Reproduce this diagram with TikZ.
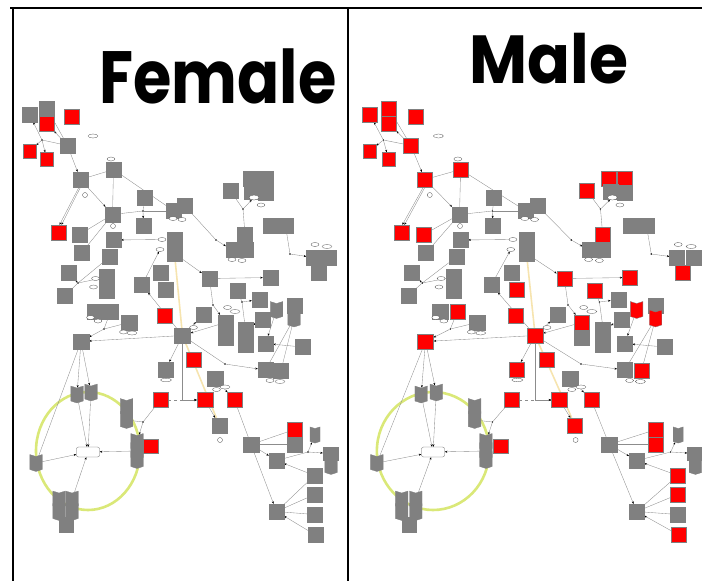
\documentclass[tikz,border=0pt]{standalone}
\usepackage{fontspec}
\newfontfamily\titlefont{Poppins}
\usetikzlibrary{shapes.symbols,shapes.geometric,arrows.meta,backgrounds}
\definecolor{boxgray}{RGB}{128,128,128}
\definecolor{boxred}{RGB}{255,0,0}
\definecolor{ringyellow}{RGB}{218,232,120}
\definecolor{hiyellow}{RGB}{246,228,175}
\tikzset{
 bx/.style={rectangle, draw=black!50, line width=0.3pt, minimum width=15pt, minimum height=15pt, inner sep=0pt},
 sh/.style={signal, signal to=south, signal from=north, signal pointer angle=145, draw=black!50, line width=0.3pt, minimum width=12.5pt, minimum height=13pt, inner sep=0pt},
 dt/.style={circle, fill=black, inner sep=0pt, minimum size=1.6pt},
 ov/.style={ellipse, draw=black!70, fill=white, line width=0.3pt, minimum width=8pt, minimum height=4pt, inner sep=0pt},
 cc/.style={circle, draw=black!70, fill=white, line width=0.3pt, minimum size=5pt, inner sep=0pt},
 cn/.style={draw=black!45, line width=0.35pt},
 ar/.style={cn, -{Stealth[length=2.6pt,width=2pt,color=black]}},
 hl/.style={draw=hiyellow, line width=1.6pt},
 cR/.style={fill=boxred},
 cG/.style={fill=boxgray},
 ttl/.style={anchor=base, inner sep=0pt, transform shape},
}
\newcommand{\graphbody}{%
% ---- top left cluster
\node[bx,cX] (n1) at (29.5,114.5) {};
\node[bx,cX] (n2) at (47,108.5) {};
\node[bx,cR] (n3) at (47,123.5) {};
\node[bx,cR] (n4) at (71.5,116.5) {};
\node[bx,cR,minimum width=13pt,minimum height=14pt] (n5) at (29.5,151) {};
\node[bx,cR,minimum width=13pt,minimum height=14pt] (n6) at (47,159.5) {};
\node[bx,cX] (ub) at (67.5,145.5) {};
\node[ov,minimum width=10pt] (lb) at (93,136) {};
\node[dt] (d1) at (42,140) {};
% ---- upper middle
\node[ov] (o1) at (111,159) {};
\node[bx,cX] (n7) at (113.5,169.5) {};
\node[bx,cX] (n8) at (80.5,179.5) {};
\node[cc] (c1) at (85,195) {};
\node[bx,cG] (n9) at (144.5,197.5) {};
\node[bx,cG] (n10) at (112.5,214.5) {};
\node[cc] (c2) at (113,226) {};
\node[dt] (d8) at (143,211) {};
\node[bx,cG] (n11) at (143.5,226) {};
\node[bx,cR] (n12) at (58.5,232.5) {};
\node[bx,cX] (n13) at (79.5,234.5) {};
\node[bx,cG] (n14) at (113.5,240) {};
\node[bx,cG] (n15) at (81.5,253) {};
\node[bx,cG] (n16) at (109.5,257) {};
\node[bx,cG] (pA) at (174,211) {};
\node[bx,cG] (pB) at (185,206) {};
\node[ov] (oa) at (173,218.5) {};
\node[ov] (ob) at (182,219.5) {};
\node[bx,cG] (t1) at (174.5,239.5) {};
\node[bx,cG] (t2) at (174.5,253.5) {};
\node[ov] (oc) at (162,239.5) {};
\node[ov] (od) at (160,249.5) {};
\node[bx,cX] (n17) at (230.5,191) {};
\node[bx,cX] (k1) at (251,178.5) {};
\node[bx,cX] (k2) at (265.5,178.5) {};
\node[bx,cG] (k3) at (252,192) {};
\node[bx,cG] (k4) at (265.5,193) {};
\node[ov,minimum width=10pt,minimum height=5pt] (o2) at (254,197.5) {};
\node[ov] (o3) at (261,205) {};
\node[dt] (d2) at (243,209) {};
\node[bx,cX] (s1) at (245,234.5) {};
\node[bx,cG] (s2) at (245.5,249.5) {};
\node[bx,cG,minimum width=12pt] (s3) at (232,250) {};
\node[ov] (oe) at (232,259.5) {};
\node[ov] (of) at (242,260.5) {};
\node[dt] (d4) at (216,240) {};
\node[bx,cG] (q1) at (271,225.5) {};
\node[bx,cG] (q2) at (285.5,225.5) {};
\node[dt] (d3) at (290,254) {};
\node[bx,cG] (r1) at (314,257.5) {};
\node[bx,cG] (r2) at (329,257.5) {};
\node[bx,cX] (r3) at (319,272.5) {};
\node[ov] (og) at (315,244.5) {};
\node[ov,minimum width=10pt] (oh) at (327,246.5) {};
% ---- middle
\node[bx,cG] (n18) at (68.5,272.5) {};
\node[bx,cG] (n19) at (65,295.5) {};
\node[bx,cG] (n20) at (107,277) {};
\node[bx,cG] (n21) at (107,291) {};
\node[ov] (oi) at (95.5,278.5) {};
\node[ov] (oj) at (93.5,287) {};
\node[dt] (d5) at (78,283) {};
\node[bx,cG] (n22) at (142,285) {};
\node[bx,cG] (n23) at (161,272.5) {};
\node[bx,cX] (n24) at (165.5,290) {};
\node[bx,cG,minimum width=16pt] (n25) at (95,311.5) {};
\node[bx,cX] (n26) at (110.5,311.5) {};
\node[ov] (ok) at (90.5,317.5) {};
\node[ov] (ol) at (98,321) {};
\node[bx,cG,minimum width=16pt] (n27) at (129,322.5) {};
\node[ov] (om) at (123.5,332) {};
\node[ov,minimum width=10pt] (on) at (132,333) {};
\node[dt] (d6) at (104,329) {};
\node[bx,cX,minimum width=16pt] (stress) at (81,341.5) {};
\node[bx,cR] (n28) at (164.5,315.5) {};
\node[bx,cX,minimum width=16pt] (hub) at (182.5,335.5) {};
\node[ov] (oo) at (193.5,327.5) {};
\node[bx,cX] (n29) at (209.5,278.5) {};
\node[bx,cX] (n30) at (270.5,277.5) {};
\node[bx,cX] (n31) at (237.5,291) {};
\node[bx,cG] (n32) at (259.5,299.5) {};
\node[bx,cG] (n33) at (203.5,314.5) {};
\node[ov] (op) at (227.5,307.5) {};
\node[ov,minimum width=10pt] (oq) at (235,311.5) {};
\node[dt] (d9) at (213,305) {};
\node[dt] (d10) at (242,302) {};
\node[bx,cX] (n34) at (225.5,322.5) {};
\node[bx,cG] (n35) at (225.5,337.5) {};
\node[bx,cG] (n36) at (245.5,329.5) {};
\node[bx,cG] (n37) at (245.5,344.5) {};
\node[bx,cG] (n38) at (262.5,319.5) {};
\node[sh,cX] (sh1) at (276.5,310) {};
\node[bx,cG] (n39) at (294.5,305.5) {};
\node[sh,cX] (sh2) at (294,318.5) {};
\node[bx,cG] (n40) at (265.5,343.5) {};
\node[bx,cG] (n41) at (302.5,347) {};
\node[bx,cR] (n42) at (193.5,360) {};
\node[dt] (d11) at (225,364) {};
\node[bx,cG] (p1) at (265.5,370) {};
\node[bx,cX] (p2) at (281,370.5) {};
\node[ov] (or) at (270,380.5) {};
\node[ov,minimum width=10pt] (os) at (280,381.5) {};
\node[bx,cG,minimum width=16pt] (n43) at (215,378.5) {};
\node[ov,minimum width=10pt] (ot) at (225,387) {};
\node[ov] (ou) at (216.5,389.5) {};
\node[bx,cX] (n44) at (165.5,369.5) {};
\node[ov,minimum width=11pt,minimum height=3.5pt] (ov1) at (166,380) {};
\node[bx,cR,minimum width=16pt] (rA) at (205,400) {};
\node[bx,cR] (rB) at (234.5,400) {};
\node[bx,cR] (rC) at (160.5,400) {};
% ---- lower left (ring)
\node[sh,cG] (sh3) at (77,394.5) {};
\node[sh,cG] (sh4) at (91,392.5) {};
\node[sh,cG] (sh5) at (126.5,407) {};
\node[sh,cG] (sh6) at (126.5,420) {};
\node[dt] (d12) at (143,422) {};
\node[sh,cG] (sh7) at (137,442) {};
\node[sh,cG] (sh8) at (137,451) {};
\node[sh,cG] (sh9) at (137,460) {};
\node[bx,cR,minimum height=14pt] (n45) at (150.5,446) {};
\node[rectangle, rounded corners=2pt, draw=black!60, fill=white, line width=0.3pt, minimum width=23pt, minimum height=10pt, inner sep=0pt] (ctr) at (88,452) {};
\node[sh,cG] (sh10) at (36,463) {};
\node[sh,cG] (sh11) at (59,499.5) {};
\node[sh,cG] (sh12) at (72,499.5) {};
\node[sh,cG] (sh13) at (59,512) {};
\node[sh,cG] (sh14) at (72,512) {};
\node[bx,cG,minimum width=14pt] (n46) at (66,525) {};
% ---- lower right
\node[bx,cX] (n47) at (219.5,425.5) {};
\node[cc] (c3) at (220,440) {};
\node[bx,cG,minimum width=16pt] (n48) at (251,444.5) {};
\node[bx,cR] (n49) at (294.5,429.5) {};
\node[bx,cX] (n50) at (294.5,444.5) {};
\node[sh,cG,minimum width=10pt] (sh15) at (315,435) {};
\node[bx,cG] (n51) at (276.5,460.5) {};
\node[dt] (d7) at (308,452) {};
\node[bx,cG,minimum height=13pt] (n52) at (330.5,453.5) {};
\node[sh,cG] (sh16) at (331,466) {};
\node[bx,cX] (n53) at (314.5,475.5) {};
\node[bx,cX] (n54) at (314.5,494.5) {};
\node[bx,cG] (n55) at (276.5,511.5) {};
\node[bx,cG] (n56) at (314.5,514.5) {};
\node[bx,cX] (n57) at (315.5,535) {};
% ---- connectors
\begin{pgfonlayer}{background}
\draw[ringyellow, line width=2.6pt] (88,451) ellipse [x radius=52, y radius=59];
\draw[hl] (t2) -- (hub);
\draw[hl] (hub) -- (n47);
\draw[cn] (n2) -- (ub);
\draw[ar] (ub) -- (n3);
\draw[cn] (d1) -- (ub);
\draw[ar] (d1) -- (n1);
\draw[ar] (d1) -- (n5);
\draw[ar] (d1) -- (n6);
\draw[ar] (ub) -- (n8);
\draw[cn] (n8) -- (n7);
\draw[ar] ([xshift=-1.5pt]n8.south) -- ([xshift=1pt]n12.north);
\draw[ar] (n8.south) -- ([xshift=3pt]n12.north);
\draw[ar] (n8) -- (n10);
\draw[cn] (n7) -- (n10);
\draw[cn] (n7) -- (pA);
\draw[cn] (n10) -- (d8);
\draw[cn] (d8) -- (pA);
\draw[cn] (n9) -- (d8);
\draw[ar] (d8) -- (n11);
\draw[cn] (n10) -- (n13);
\draw[cn] (n10) -- (n15);
\draw[ar] (oc) -- (n14);
\draw[cn] (pB) -- (d4);
\draw[ar] (d4) -- (s3);
\draw[cn] (n17) -- (d2);
\draw[ar] (d2) -- (o2);
\draw[cn] (d2) -- (s1);
\draw[cn] (q2) -- (d3);
\draw[ar] (d3) -- (r1);
\draw[ar] (t2) -- (n29);
\draw[ar] (n29) -- (n30);
\draw[cn] (n29) -- (d9);
\draw[ar] (d9) -- (n34);
\draw[ar] (n34) -- (hub);
\draw[ar] (hub) -- (n33);
\draw[cn] (n31) -- (d10);
\draw[ar] (d10) -- (n32);
\draw[cn] (d10) -- (n36);
\draw[ar] (n38) -- (n36);
\draw[ar] (sh1) -- (n40);
\draw[ar] (n41) -- (n40);
\draw[cn] (sh2) -- (p2);
\draw[cn] (sh2) -- (p1);
\draw[cn] (hub) -- (d11);
\draw[ar] (d11) -- (p1);
\draw[ar] (n43) -- (rB);
\draw[ar, dashed] (rC) -- (rA);
\draw[ar] (hub) |- (rA);
\draw[ar] (rA) -- (n47);
\draw[cn] (rB) -- (n48);
\draw[ar] (hub) -- (stress);
\draw[ar] (hub) -- (n22);
\draw[ar] (hub) -- (n44);
\draw[cn] (n26) -- (d6);
\draw[cn] (n27) -- (d6);
\draw[ar] (d6) -- (stress);
\draw[ar] (d5) -- (n18);
\draw[cn] (n19) -- (d5);
\draw[cn] (d5) -- (n20);
\draw[cn] (d5) -- (n16);
\draw[ar] (n22) -- (od);
\draw[ar] (stress) -- (sh3);
\draw[ar] (stress) -- (sh4);
\draw[cn] (stress) -- (sh10);
\draw[ar] (sh3) -- (ctr);
\draw[ar] (sh4) -- (ctr);
\draw[ar] (sh8) -- (ctr);
\draw[ar] (sh10) -- (ctr);
\draw[ar] (sh12) -- (ctr);
\draw[cn] (rC) -- (d12);
\draw[ar] (d12) -- (sh7);
\draw[cn] (d12) -- (sh6);
\draw[cn] (n48) -- (n49);
\draw[cn] (n48) -- (n50);
\draw[ar] (n48) -- (n51);
\draw[ar] (n48) -- (n55);
\draw[ar] (n53) -- (n51);
\draw[cn] (n53) -- (n55);
\draw[cn] (n54) -- (n55);
\draw[cn] (n56) -- (n55);
\draw[ar] (n57) -- (n55);
\draw[cn] (n51) -- (d7);
\draw[ar] (d7) -- (sh15);
\draw[ar] (d7) -- (n52);
\end{pgfonlayer}
}
\begin{document}
\begin{tikzpicture}[x=1pt,y=-1pt]
\useasboundingbox (0,0) rectangle (702,581);
\begin{scope}[name prefix=f-, cX/.style={fill=boxgray}]
\graphbody
\end{scope}
\begin{scope}[name prefix=m-, xshift=338pt, xscale=1.08, cX/.style={fill=boxred}]
\graphbody
\end{scope}
\draw[line width=1.3pt] (10,8) -- (702,8);
\draw[line width=2.6pt] (13,8) -- (13,581);
\draw[line width=2.6pt] (348,8) -- (348,581);
\node[ttl, xscale=0.84, font=\titlefont\bfseries\fontsize{74}{74}\selectfont] (tf) at (218,103) {Female};
\node[ttl, xscale=0.93, font=\titlefont\bfseries\fontsize{68}{68}\selectfont] (tm) at (549,83) {Male};
\end{tikzpicture}
\end{document}
